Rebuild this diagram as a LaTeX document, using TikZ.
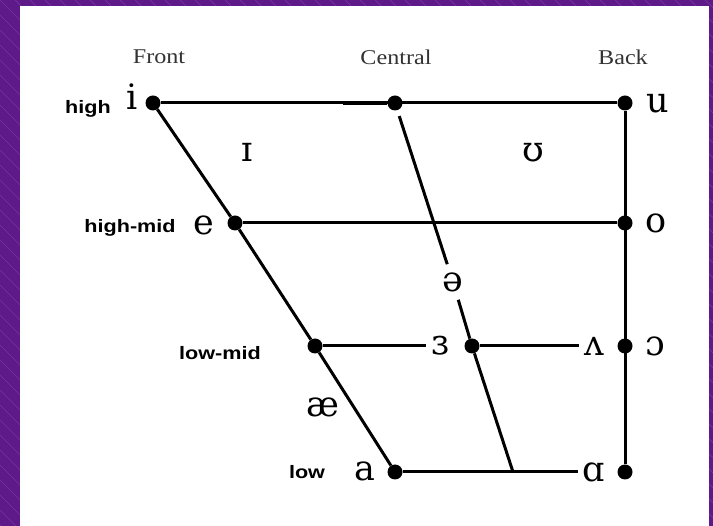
\documentclass[tikz,border=0pt]{standalone}
\usepackage{fontspec}
\newfontfamily\ipafont{DejaVu Serif}
\newfontfamily\headfont[FakeStretch=1.15]{Liberation Serif}
\newfontfamily\lblfont[FakeStretch=1.2]{Liberation Sans}
\definecolor{bgpurple}{HTML}{5E1A88}
\definecolor{stripecol}{HTML}{9A5CC4}
\begin{document}
\begin{tikzpicture}[x=1pt,y=-1pt,
  vdot/.style={circle,fill=black,inner sep=0pt,minimum size=15pt},
  ipa/.style={font=\ipafont\fontsize{35}{35}\selectfont,inner sep=5pt},
  head/.style={font=\headfont\fontsize{21}{21}\selectfont,text=black!80,inner sep=0pt},
  lvl/.style={font=\lblfont\bfseries\fontsize{18}{18}\selectfont,inner sep=0pt},
  chart/.style={line width=3pt},
  stripe/.style={draw=stripecol,line width=0.7pt,opacity=0.4}]
\useasboundingbox (0,0) rectangle (713,526);
% background
\fill[bgpurple] (0,0) rectangle (713,526);
\begin{scope}
  \clip (0,0) rectangle (713,526);
  \foreach \k in {-600,-585,...,720} \draw[stripe] (\k,0) -- ++(560,560);
\end{scope}
\fill[white] (20,6) rectangle (709,526);

% column headings
\node[head] (front) at (159,57) {Front};
\node[head] (central) at (396,57) {Central};
\node[head] (back) at (623,57) {Back};

% height labels
\node[lvl] (high) at (88,109) {high};
\node[lvl] (highmid) at (130,228) {high-mid};
\node[lvl] (lowmid) at (220,353) {low-mid};
\node[lvl] (low) at (307,472) {low};

% dots
\node[vdot] (iD) at (153,103) {};
\node[vdot] (cD) at (395,103) {};
\node[vdot] (uD) at (625,103) {};
\node[vdot] (eD) at (235,223) {};
\node[vdot] (oD) at (625,223) {};
\node[vdot] (lmD) at (315,346) {};
\node[vdot] (erD) at (472,346) {};
\node[vdot] (ocD) at (625,346) {};
\node[vdot] (aD) at (395,472) {};
\node[vdot] (ahD) at (625,472) {};
\coordinate (cb) at (513,472);
\coordinate (thk) at (343,103);

% vowel symbols
\node[ipa] (i) at (132,97) {i};
\node[ipa] (e) at (204,225) {e};
\node[ipa] (a) at (365,471) {a};
\node[ipa] (u) at (658,104) {u};
\node[ipa] (o) at (656,223) {o};
\node[ipa] (oc) at (655,346) {ɔ};
\node[ipa] (wv) at (594,346) {ʌ};
\node[ipa] (er) at (440,346) {ɜ};
\node[ipa,inner sep=8pt] (schwa) at (453,282) {ə};
\node[ipa] (ah) at (594,472) {ɑ};
\node[ipa] (ih) at (247,152) {ɪ};
\node[ipa] (uh) at (533,153) {ʊ};
\node[ipa] (ae) at (323,407) {æ};

% chart lines
\draw[chart] (iD) -- (uD);
\draw[line width=4.5pt] (thk) -- (cD);
\draw[chart] (eD) -- (oD);
\draw[chart] (uD) -- (ahD);
\draw[chart] (iD) -- (eD) -- (lmD) -- (aD);
\draw[chart] (lmD) -- (er);
\draw[chart] (erD) -- (wv);
\draw[chart] (aD) -- (ah);
\draw[chart,shorten <=6pt] (cD) -- (schwa);
\draw[chart] (schwa) -- (erD) -- (cb);
\end{tikzpicture}
\end{document}
